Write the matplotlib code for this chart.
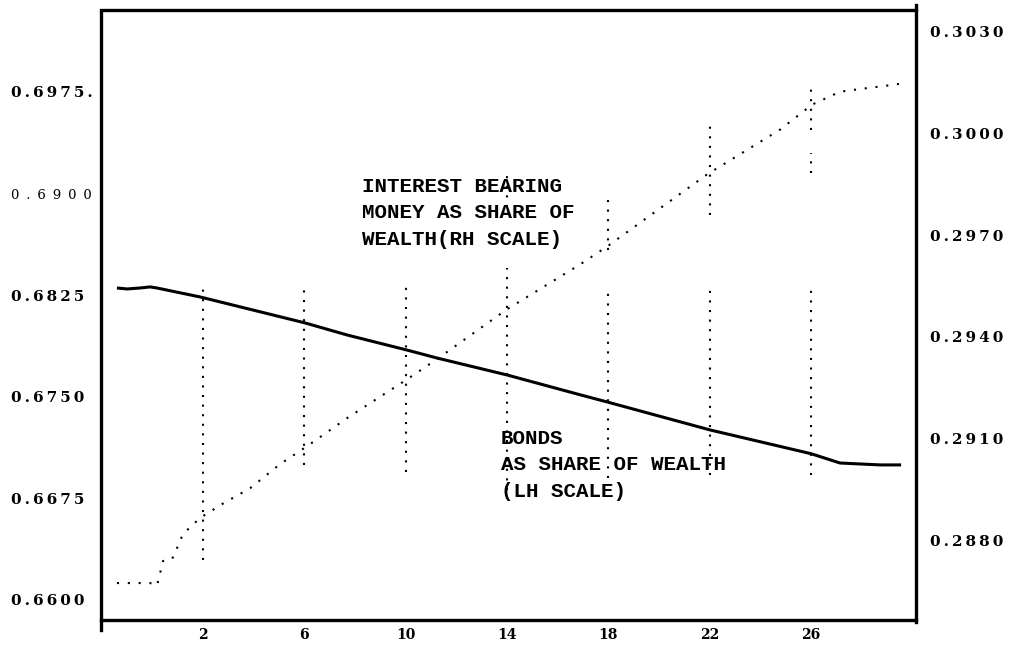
import matplotlib.pyplot as plt

plt.rcParams['font.family'] = 'DejaVu Serif'

# bonds as share of wealth (LH scale)
bonds_x = [-1.40, -1.00, -0.49, -0.09, 0.18, 1.88, 6.03, 7.69, 10.05, 11.24,
           14.00, 16.88, 17.95, 22.02, 26.00, 27.15, 27.94, 28.73, 29.56]
bonds_y = [0.68303, 0.68296, 0.68303, 0.68311, 0.68303, 0.68237, 0.68045, 0.67956,
           0.67845, 0.67786, 0.67661, 0.67515, 0.67462, 0.67255, 0.67080, 0.67011,
           0.67004, 0.66997, 0.66997]

# interest bearing money as share of wealth (RH scale)
money_x = [-1.40, -0.09, 0.18, 0.42, 0.78, 0.97, 1.21, 1.88, 2.75, 3.86, 5.04, 6.11,
           7.69, 10.05, 11.24, 14.00, 16.88, 17.95, 21.90, 24.78, 26.05, 27.15, 28.06,
           29.32, 29.56]
money_y = [0.28673, 0.28673, 0.28665, 0.28738, 0.28744, 0.28776, 0.28818, 0.28865,
           0.28906, 0.28953, 0.29024, 0.29077, 0.29160, 0.29274, 0.29334, 0.29481,
           0.29613, 0.29666, 0.29879, 0.30011, 0.30085, 0.30123, 0.30132, 0.30144,
           0.30147]

# partial dotted guides at the x ticks (LH units)
guide_x = [2, 6, 10, 14, 14, 18, 18, 22, 22, 26, 26, 26]
guide_lo = [0.66295, 0.66997, 0.66945, 0.66812, 0.68900, 0.66901, 0.68584,
            0.66923, 0.68842, 0.66923, 0.69152, 0.69470]
guide_hi = [0.68311, 0.68325, 0.68340, 0.68451, 0.69152, 0.68303, 0.68968,
            0.68303, 0.69529, 0.68311, 0.69300, 0.69787]

x_ticks = [2, 6, 10, 14, 18, 22, 26]
left_ticks = [0.6600, 0.6675, 0.6750, 0.6825, 0.6900, 0.6975]
left_labels = ['0.6600', '0.6675', '0.6750', '0.6825', '0 . 6 9 0 0', '0.6975.']
right_ticks = [0.2880, 0.2910, 0.2940, 0.2970, 0.3000, 0.3030]
right_labels = ['0.2880', '0.2910', '0.2940', '0.2970', '0.3000', '0.3030']


def spaced(s):
    # typewriter-like letter spacing
    if ' ' in s:
        return s.replace(' ', ' \u2009')
    return '\u2009'.join(s)


fig = plt.figure(figsize=(10.14, 6.47), dpi=100)
ax = fig.add_axes([0.0996, 0.0417, 0.8038, 0.9428])
ax2 = ax.twinx()

ax.set_xlim(-2.03, 30.15)
ax.set_ylim(0.65852, 0.70355)
ax2.set_ylim(0.285639, 0.303640)

for gx, lo, hi in zip(guide_x, guide_lo, guide_hi):
    ax.plot([gx, gx], [lo, hi], color='black', lw=1.5, linestyle=(0, (1, 3.6)))

ax.plot(bonds_x, bonds_y, color='black', lw=2.2, solid_capstyle='butt')
ax2.plot(money_x, money_y, color='black', lw=1.5, linestyle=(0, (1, 4.2)))

# frame
for side in ['left', 'right', 'top', 'bottom']:
    ax.spines[side].set_linewidth(2.4)
    ax2.spines[side].set_linewidth(2.4)
ax.spines['right'].set_visible(False)
for side in ['left', 'top', 'bottom']:
    ax2.spines[side].set_visible(False)
ax.spines['left'].set_bounds(0.657785, 0.7033)
ax2.spines['right'].set_bounds(0.28558, 0.30379)

ax.set_xticks(x_ticks)
ax.set_xticklabels([str(t) for t in x_ticks], fontsize=10, fontweight='bold')
ax.tick_params(axis='x', length=0, pad=6)

ax.set_yticks(left_ticks)
ax.set_yticklabels([spaced(lab) for lab in left_labels], fontsize=11, fontweight='bold')
for lab in ax.get_yticklabels():
    lab.set_horizontalalignment('left')
    if ' ' in lab.get_text():
        lab.set_fontweight('normal')
        lab.set_fontsize(9.5)
ax.tick_params(axis='y', length=0, pad=65)

ax2.set_yticks(right_ticks)
ax2.set_yticklabels([spaced(lab) for lab in right_labels], fontsize=11, fontweight='bold')
ax2.tick_params(axis='y', length=0, pad=10)

ax.text(8.28, 0.68857, 'INTEREST BEARING\nMONEY AS SHARE OF\nWEALTH(RH SCALE)',
        family='Liberation Mono', fontweight='bold', fontsize=15, linespacing=1.5,
        va='center', ha='left')
ax.text(13.75, 0.66997, 'BONDS\nAS SHARE OF WEALTH\n(LH SCALE)',
        family='Liberation Mono', fontweight='bold', fontsize=15, linespacing=1.5,
        va='center', ha='left')

fig.savefig('out.png', dpi=100)
